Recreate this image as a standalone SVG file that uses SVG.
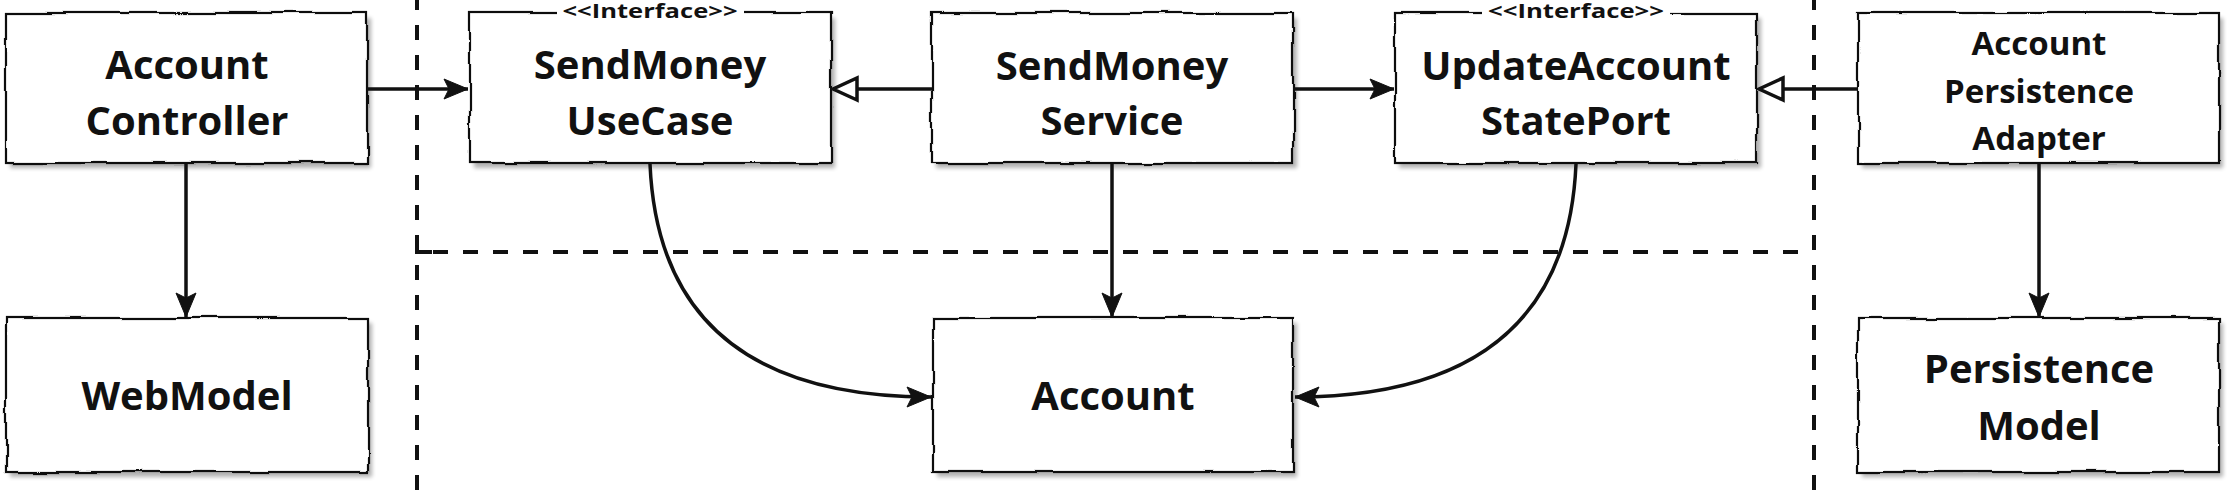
<svg xmlns="http://www.w3.org/2000/svg" width="2238" height="500" viewBox="0 0 2238 500">
  <style>
    .box { fill: #ffffff; stroke: #111111; stroke-width: 2.2; filter: url(#rough); }
    .shadow { fill: #000000; opacity: 0.3; filter: url(#soft); }
    .lbl { font-family: "Open Sans", "Noto Sans", "Liberation Sans", sans-serif; font-weight: 700; font-size: 40px; fill: #111111; text-anchor: middle; }
    .lbl-s { font-size: 33px; }
    .stereo { font-family: "Open Sans", "Noto Sans", "Liberation Sans", sans-serif; font-weight: 700; font-size: 19px; fill: #111111; text-anchor: middle; }
    .conn { fill: none; stroke: #111111; stroke-width: 3.5; }
    .divider { fill: none; stroke: #111111; stroke-width: 4; stroke-dasharray: 15 15; }
  </style>
  <defs>
    <filter id="rough" x="-5%" y="-10%" width="110%" height="120%">
      <feTurbulence type="fractalNoise" baseFrequency="0.018 0.03" numOctaves="2" seed="7" result="noise"/>
      <feDisplacementMap in="SourceGraphic" in2="noise" scale="6" xChannelSelector="R" yChannelSelector="G"/>
    </filter>
    <filter id="soft" x="-10%" y="-10%" width="120%" height="130%">
      <feGaussianBlur stdDeviation="2"/>
    </filter>
    <marker id="arrow" markerUnits="userSpaceOnUse" viewBox="0 0 26 22" refX="25" refY="11" markerWidth="26" markerHeight="22" orient="auto">
      <path d="M1,1 L25,11 L1,21 L6,11 Z" fill="#111111" stroke="#111111" stroke-width="1"/>
    </marker>
    <marker id="hollow" markerUnits="userSpaceOnUse" viewBox="0 0 30 28" refX="27" refY="14" markerWidth="30" markerHeight="28" orient="auto">
      <path d="M3,3 L27,14 L3,25 Z" fill="#ffffff" stroke="#111111" stroke-width="3.5" stroke-linejoin="miter"/>
    </marker>
  </defs>

  <rect x="0" y="0" width="2238" height="500" fill="#ffffff"/>

  <g id="dividers">
    <line class="divider" x1="417" y1="-5" x2="417" y2="500"/>
    <line class="divider" x1="1814" y1="-5" x2="1814" y2="500"/>
    <path class="divider" d="M418,252 L1800,252" stroke-dashoffset="-15"/>
    <path d="M417,244 L417,252 L432,252" fill="none" stroke="#111111" stroke-width="4"/>
  </g>

  <g id="account-controller">
    <rect class="shadow" x="10" y="18" width="361" height="150"/>
    <rect class="box" x="6" y="13" width="361" height="150"/>
    <text class="lbl" x="187" y="79">Account</text>
    <text class="lbl" x="187" y="135">Controller</text>
  </g>

  <g id="send-money-use-case">
    <rect class="shadow" x="474" y="18" width="361" height="150"/>
    <rect class="box" x="470" y="13" width="361" height="150"/>
    <rect x="557" y="3" width="187" height="20" fill="#ffffff"/>
    <text class="stereo" x="650" y="18" textLength="175" lengthAdjust="spacingAndGlyphs">&lt;&lt;Interface&gt;&gt;</text>
    <text class="lbl" x="650" y="79">SendMoney</text>
    <text class="lbl" x="650" y="135">UseCase</text>
  </g>

  <g id="send-money-service">
    <rect class="shadow" x="936" y="18" width="361" height="150"/>
    <rect class="box" x="932" y="13" width="361" height="150"/>
    <text class="lbl" x="1112" y="80">SendMoney</text>
    <text class="lbl" x="1112" y="135">Service</text>
  </g>

  <g id="update-account-state-port">
    <rect class="shadow" x="1399" y="18" width="362" height="150"/>
    <rect class="box" x="1395" y="13" width="362" height="150"/>
    <rect x="1482" y="3" width="188" height="20" fill="#ffffff"/>
    <text class="stereo" x="1576" y="18" textLength="176" lengthAdjust="spacingAndGlyphs">&lt;&lt;Interface&gt;&gt;</text>
    <text class="lbl" x="1576" y="80">UpdateAccount</text>
    <text class="lbl" x="1576" y="135">StatePort</text>
  </g>

  <g id="account-persistence-adapter">
    <rect class="shadow" x="1862" y="18" width="361" height="150"/>
    <rect class="box" x="1858" y="13" width="361" height="150"/>
    <text class="lbl lbl-s" x="2039" y="55">Account</text>
    <text class="lbl lbl-s" x="2039" y="103">Persistence</text>
    <text class="lbl lbl-s" x="2039" y="150">Adapter</text>
  </g>

  <g id="web-model">
    <rect class="shadow" x="10" y="323" width="362" height="154"/>
    <rect class="box" x="6" y="318" width="362" height="154"/>
    <text class="lbl" x="187" y="410">WebModel</text>
  </g>

  <g id="account">
    <rect class="shadow" x="937" y="323" width="360" height="154"/>
    <rect class="box" x="933" y="318" width="360" height="154"/>
    <text class="lbl" x="1113" y="410">Account</text>
  </g>

  <g id="persistence-model">
    <rect class="shadow" x="1862" y="323" width="361" height="154"/>
    <rect class="box" x="1858" y="318" width="361" height="154"/>
    <text class="lbl" x="2039" y="383">Persistence</text>
    <text class="lbl" x="2039" y="440">Model</text>
  </g>

  <g id="connectors">
    <path class="conn" d="M367,89 L468,89" marker-end="url(#arrow)"/>
    <path class="conn" d="M932,89 L833,89" marker-end="url(#hollow)"/>
    <path class="conn" d="M1293,89 L1394,89" marker-end="url(#arrow)"/>
    <path class="conn" d="M1858,89 L1759,89" marker-end="url(#hollow)"/>
    <path class="conn" d="M186,164 L186,317" marker-end="url(#arrow)"/>
    <path class="conn" d="M1112,164 L1112,317" marker-end="url(#arrow)"/>
    <path class="conn" d="M2039,164 L2039,317" marker-end="url(#arrow)"/>
    <path class="conn" d="M650,164 Q660,397 931,397" marker-end="url(#arrow)"/>
    <path class="conn" d="M1576,164 Q1566,397 1295,397" marker-end="url(#arrow)"/>
  </g>
</svg>
